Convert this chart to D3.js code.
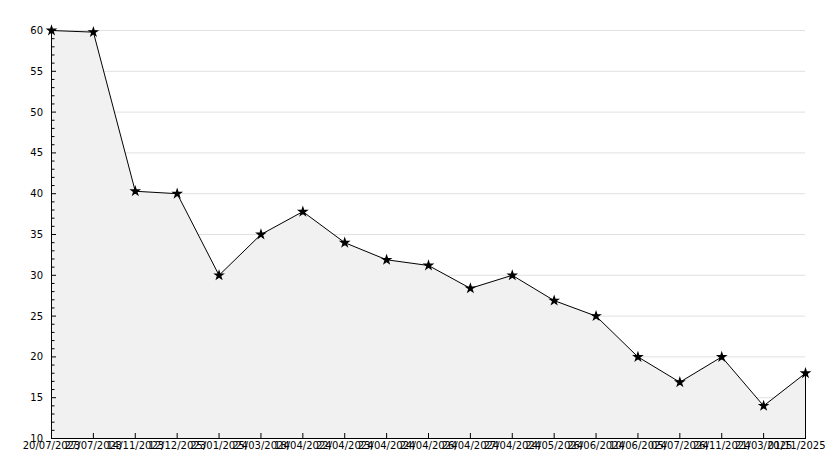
<!DOCTYPE html>
<html>
<head>
<meta charset="utf-8">
<script src="https://cdn.jsdelivr.net/npm/d3@7"></script>
<style>
body { margin: 0; background: #fff; }
text { font-family: "DejaVu Sans", sans-serif; font-size: 10px; fill: #000; }
</style>
</head>
<body>
<div id="chart"></div>
<script>
// dates (x categories) and values
var dates = ["20/07/2023", "27/07/2023", "14/11/2023", "12/12/2023", "25/01/2024",
  "25/03/2024", "18/04/2024", "22/04/2024", "23/04/2024", "24/04/2024",
  "26/04/2024", "27/04/2024", "24/05/2024", "26/06/2024", "10/06/2024",
  "05/07/2024", "26/11/2024", "21/03/2025", "01/11/2025"];
var values = [60, 59.8, 40.3, 40, 30, 35, 37.8, 34, 31.9, 31.2, 28.4, 30, 26.9, 25, 20, 16.9, 20, 14, 18];
var yTicks = [10, 15, 20, 25, 30, 35, 40, 45, 50, 55, 60];

var W = 834, H = 468;
var margin = {top: 30, right: 29, bottom: 30, left: 51},
  width = W - margin.left - margin.right,
  height = H - margin.top - margin.bottom;

var svg = d3.select("#chart").append("svg")
  .attr("width", W).attr("height", H)
  .append("g")
  .attr("transform", "translate(" + margin.left + "," + margin.top + ")");

var x = d3.scalePoint().domain(d3.range(dates.length)).range([0, width]);
var y = d3.scaleLinear().domain([10, 60]).range([height, 0]);

// gridlines
svg.selectAll(".grid").data(yTicks.slice(1)).enter().append("line")
  .attr("x1", 0).attr("x2", width)
  .attr("y1", function(d) { return y(d) + 0.5; })
  .attr("y2", function(d) { return y(d) + 0.5; })
  .attr("stroke", "#e0e0e0").attr("stroke-width", 1);

// area
var area = d3.area()
  .x(function(d, i) { return x(i); })
  .y0(height)
  .y1(function(d) { return y(d); });
svg.append("path").datum(values)
  .attr("d", area)
  .attr("fill", "#f1f1f1");

// right edge of the fill
svg.append("line")
  .attr("x1", x(values.length - 1) + 0.5).attr("x2", x(values.length - 1) + 0.5)
  .attr("y1", y(values[values.length - 1])).attr("y2", height)
  .attr("stroke", "#000");

var line = d3.line()
  .x(function(d, i) { return x(i) + 0.5; })
  .y(function(d) { return y(d) + 0.5; });
svg.append("path").datum(values)
  .attr("d", line)
  .attr("fill", "none")
  .attr("stroke", "#000").attr("stroke-width", 1);

// markers
var star = d3.symbol().type(d3.symbolStar).size(20);
svg.selectAll(".mk").data(values).enter().append("path")
  .attr("d", star)
  .attr("transform", function(d, i) { return "translate(" + (x(i) + 0.5) + "," + (y(d) + 0.5) + ")"; })
  .attr("fill", "#000")
  .attr("stroke", "#000").attr("stroke-width", 1.2);

// y axis
var yAxis = d3.axisLeft(y).tickValues(d3.range(10, 61, 1)).tickSize(0).tickFormat("");
var gy = svg.append("g").call(yAxis);
gy.select(".domain").remove();
gy.selectAll(".tick line").remove();
gy.selectAll(".tick").append("line")
  .attr("x1", 0)
  .attr("x2", function(d) { return d % 5 === 0 ? 5 : 3.5; })
  .attr("stroke", "#000");
gy.selectAll(".tick").filter(function(d) { return d % 5 === 0; })
  .append("text")
  .attr("x", -8).attr("dy", "0.35em")
  .attr("text-anchor", "end")
  .style("fill", "#000")
  .text(function(d) { return d; });
svg.append("line").attr("x1", 0.5).attr("x2", 0.5).attr("y1", 0).attr("y2", height + 0.5)
  .attr("stroke", "#000");

// x axis
var gx = svg.append("g").attr("transform", "translate(0," + height + ")")
  .call(d3.axisBottom(x).tickSize(0).tickFormat(function(i) { return dates[i]; }));
gx.select(".domain").remove();
gx.selectAll(".tick line").remove();
gx.selectAll(".tick").append("line")
  .attr("y1", 0).attr("y2", -5).attr("stroke", "#000");
gx.selectAll(".tick text").attr("y", 4).attr("dy", "0.71em").style("font-size", "10px");
// last label kept inside the picture
gx.selectAll(".tick text").filter(function(i) { return i === dates.length - 1; })
  .attr("text-anchor", "end").attr("x", 20);
svg.append("line").attr("x1", 0).attr("x2", width + 1).attr("y1", height + 0.5).attr("y2", height + 0.5)
  .attr("stroke", "#000");
</script>
</body>
</html>
